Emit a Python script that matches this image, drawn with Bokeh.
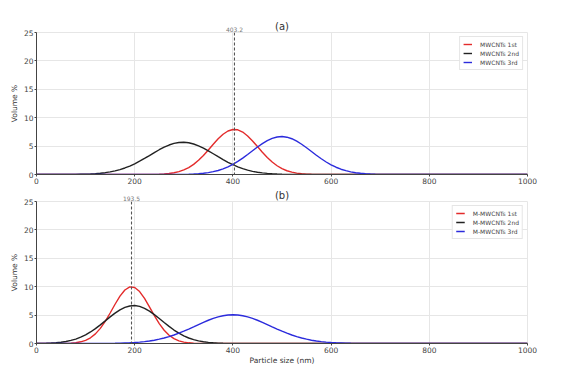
from bokeh.plotting import figure
from bokeh.layouts import column
from bokeh.models import Range1d, Span, FixedTicker, LinearAxis
from bokeh.embed import file_html
from bokeh.resources import INLINE

# Particle size grid (nm), one sample every 10 nm from 0 to 1000
size_nm = list(range(0, 1001, 10))

# (a) MWCNTs volume % distributions
mwcnt_1st = [
    0, 0, 0, 0, 0, 0, 0, 0, 0, 0,
    0, 0, 0, 0, 0, 0, 0, 0, 0, 0,
    0, 0, 0, 0.01, 0.02, 0.05, 0.09, 0.17, 0.30, 0.50,
    0.80, 1.22, 1.78, 2.50, 3.36, 4.32, 5.32, 6.28, 7.09, 7.66,
    7.93, 7.87, 7.47, 6.79, 5.91, 4.92, 3.93, 3.00, 2.20, 1.54,
    1.03, 0.66, 0.41, 0.24, 0.14, 0.07, 0.04, 0.02, 0.01, 0,
    0, 0, 0, 0, 0, 0, 0, 0, 0, 0,
    0, 0, 0, 0, 0, 0, 0, 0, 0, 0,
    0, 0, 0, 0, 0, 0, 0, 0, 0, 0,
    0, 0, 0, 0, 0, 0, 0, 0, 0, 0,
    0,
]
mwcnt_2nd = [
    0, 0, 0, 0, 0, 0, 0.01, 0.01, 0.02, 0.04,
    0.06, 0.10, 0.15, 0.22, 0.32, 0.46, 0.64, 0.87, 1.15, 1.49,
    1.89, 2.34, 2.83, 3.34, 3.86, 4.36, 4.81, 5.19, 5.47, 5.64,
    5.68, 5.59, 5.37, 5.05, 4.64, 4.16, 3.65, 3.13, 2.63, 2.15,
    1.72, 1.35, 1.03, 0.77, 0.56, 0.40, 0.28, 0.19, 0.13, 0.08,
    0.05, 0.03, 0.02, 0.01, 0.01, 0, 0, 0, 0, 0,
    0, 0, 0, 0, 0, 0, 0, 0, 0, 0,
    0, 0, 0, 0, 0, 0, 0, 0, 0, 0,
    0, 0, 0, 0, 0, 0, 0, 0, 0, 0,
    0, 0, 0, 0, 0, 0, 0, 0, 0, 0,
    0,
]
mwcnt_3rd = [
    0, 0, 0, 0, 0, 0, 0, 0, 0, 0,
    0, 0, 0, 0, 0, 0, 0, 0, 0, 0,
    0, 0, 0, 0, 0, 0, 0, 0.01, 0.01, 0.02,
    0.03, 0.05, 0.09, 0.14, 0.22, 0.34, 0.50, 0.71, 1.00, 1.35,
    1.79, 2.30, 2.89, 3.52, 4.18, 4.84, 5.44, 5.97, 6.36, 6.61,
    6.68, 6.57, 6.30, 5.87, 5.33, 4.71, 4.05, 3.39, 2.77, 2.20,
    1.70, 1.28, 0.93, 0.67, 0.46, 0.31, 0.21, 0.13, 0.08, 0.05,
    0.03, 0.02, 0.01, 0.01, 0, 0, 0, 0, 0, 0,
    0, 0, 0, 0, 0, 0, 0, 0, 0, 0,
    0, 0, 0, 0, 0, 0, 0, 0, 0, 0,
    0,
]

# (b) M-MWCNTs volume % distributions
m_mwcnt_1st = [
    0, 0, 0, 0, 0, 0.01, 0.03, 0.07, 0.14, 0.30,
    0.56, 1.01, 1.69, 2.66, 3.90, 5.37, 6.91, 8.34, 9.42, 9.96,
    9.86, 9.14, 7.94, 6.45, 4.91, 3.50, 2.34, 1.46, 0.85, 0.47,
    0.24, 0.12, 0.05, 0.02, 0.01, 0, 0, 0, 0, 0,
    0, 0, 0, 0, 0, 0, 0, 0, 0, 0,
    0, 0, 0, 0, 0, 0, 0, 0, 0, 0,
    0, 0, 0, 0, 0, 0, 0, 0, 0, 0,
    0, 0, 0, 0, 0, 0, 0, 0, 0, 0,
    0, 0, 0, 0, 0, 0, 0, 0, 0, 0,
    0, 0, 0, 0, 0, 0, 0, 0, 0, 0,
    0,
]
m_mwcnt_2nd = [
    0.02, 0.03, 0.05, 0.09, 0.14, 0.23, 0.36, 0.54, 0.78, 1.11,
    1.52, 2.03, 2.62, 3.28, 3.98, 4.69, 5.35, 5.92, 6.35, 6.61,
    6.68, 6.53, 6.20, 5.71, 5.09, 4.41, 3.70, 3.01, 2.37, 1.82,
    1.35, 0.97, 0.68, 0.46, 0.30, 0.19, 0.12, 0.07, 0.04, 0.02,
    0.01, 0.01, 0, 0, 0, 0, 0, 0, 0, 0,
    0, 0, 0, 0, 0, 0, 0, 0, 0, 0,
    0, 0, 0, 0, 0, 0, 0, 0, 0, 0,
    0, 0, 0, 0, 0, 0, 0, 0, 0, 0,
    0, 0, 0, 0, 0, 0, 0, 0, 0, 0,
    0, 0, 0, 0, 0, 0, 0, 0, 0, 0,
    0,
]
m_mwcnt_3rd = [
    0, 0, 0, 0, 0, 0, 0, 0, 0, 0,
    0, 0, 0.01, 0.01, 0.02, 0.03, 0.04, 0.06, 0.09, 0.12,
    0.17, 0.24, 0.33, 0.44, 0.58, 0.76, 0.97, 1.21, 1.50, 1.82,
    2.17, 2.55, 2.94, 3.34, 3.73, 4.09, 4.41, 4.68, 4.88, 5.01,
    5.05, 5.01, 4.88, 4.68, 4.41, 4.09, 3.73, 3.34, 2.94, 2.55,
    2.17, 1.82, 1.50, 1.21, 0.97, 0.76, 0.58, 0.44, 0.33, 0.24,
    0.17, 0.12, 0.09, 0.06, 0.04, 0.03, 0.02, 0.01, 0.01, 0,
    0, 0, 0, 0, 0, 0, 0, 0, 0, 0,
    0, 0, 0, 0, 0, 0, 0, 0, 0, 0,
    0, 0, 0, 0, 0, 0, 0, 0, 0, 0,
    0,
]

peak_a = 403.2
peak_b = 193.5

x_ticks = [0, 200, 400, 600, 800, 1000]
y_ticks = [0, 5, 10, 15, 20, 25]

labels_a = ["MWCNTs 1st", "MWCNTs 2nd", "MWCNTs 3rd"]
labels_b = ["M-MWCNTs 1st", "M-MWCNTs 2nd", "M-MWCNTs 3rd"]
colors = ["#e32b2b", "#222222", "#2b2bdc"]

FONT = "DejaVu Sans"


def make_fig(title, height, top, bottom, series, labels, peak, xlabel):
    p = figure(width=564, height=height, x_range=Range1d(0, 1000), y_range=Range1d(0, 25),
               output_backend="svg", toolbar_location=None,
               min_border_left=36, min_border_right=37,
               min_border_top=top, min_border_bottom=bottom)
    p.outline_line_color = "#e6e6e6"

    p.xaxis.ticker = FixedTicker(ticks=x_ticks)
    p.yaxis.ticker = FixedTicker(ticks=y_ticks)
    for ax in (p.xaxis[0], p.yaxis[0]):
        ax.major_label_text_font = FONT
        ax.major_label_text_font_size = "7.5px"
        ax.major_label_text_color = "#444444"
        ax.axis_line_color = "#444444"
        ax.major_tick_line_color = "#444444"
        ax.major_tick_out = 2
        ax.major_tick_in = 0
        ax.minor_tick_out = 0
        ax.minor_tick_in = 0
        ax.major_label_standoff = 1
        ax.axis_label_text_font = FONT
        ax.axis_label_text_font_size = "7.5px"
        ax.axis_label_text_font_style = "normal"
        ax.axis_label_text_color = "#333333"
        ax.axis_label_standoff = 2
    p.yaxis.axis_label = "Volume %"
    if xlabel:
        p.xaxis.axis_label = xlabel
        p.xaxis.axis_label_standoff = 0
    p.grid.grid_line_color = "#e6e6e6"

    # top axis: carries the peak value over the dashed line, and the panel title
    top_ax = LinearAxis(ticker=FixedTicker(ticks=[peak]), axis_label=title)
    top_ax.axis_line_color = None
    top_ax.major_tick_line_color = None
    top_ax.minor_tick_line_color = None
    top_ax.major_tick_out = 0
    top_ax.major_tick_in = 0
    top_ax.minor_tick_out = 0
    top_ax.minor_tick_in = 0
    top_ax.major_label_standoff = 1
    top_ax.major_label_text_font = FONT
    top_ax.major_label_text_font_size = "6px"
    top_ax.major_label_text_color = "#777777"
    top_ax.axis_label_text_font = FONT
    top_ax.axis_label_text_font_size = "10px"
    top_ax.axis_label_text_font_style = "normal"
    top_ax.axis_label_text_color = "#333333"
    top_ax.axis_label_standoff = -8
    p.add_layout(top_ax, "above")

    for ys, lab, col in zip(series, labels, colors):
        p.line(size_nm, ys, line_color=col, line_width=1.4, legend_label=lab)

    p.add_layout(Span(location=peak, dimension="height", line_color="#555555",
                      line_dash="3 2", line_width=1.1))

    lg = p.legend[0]
    lg.location = "top_right"
    lg.label_text_font = FONT
    lg.label_text_font_size = "6px"
    lg.label_text_color = "#444444"
    lg.border_line_color = "#cccccc"
    lg.background_fill_alpha = 0.9
    lg.glyph_width = 9
    lg.glyph_height = 8
    lg.label_height = 8
    lg.label_standoff = 8
    lg.padding = 3
    lg.spacing = 1
    lg.margin = 4
    return p


p1 = make_fig("(a)", 186, 32, 12, [mwcnt_1st, mwcnt_2nd, mwcnt_3rd], labels_a, peak_a, None)
p2 = make_fig("(b)", 186, 15, 29, [m_mwcnt_1st, m_mwcnt_2nd, m_mwcnt_3rd], labels_b, peak_b,
              "Particle size (nm)")

layout = column(p1, p2, spacing=0)
open("out.html", "w").write(file_html(layout, INLINE))
